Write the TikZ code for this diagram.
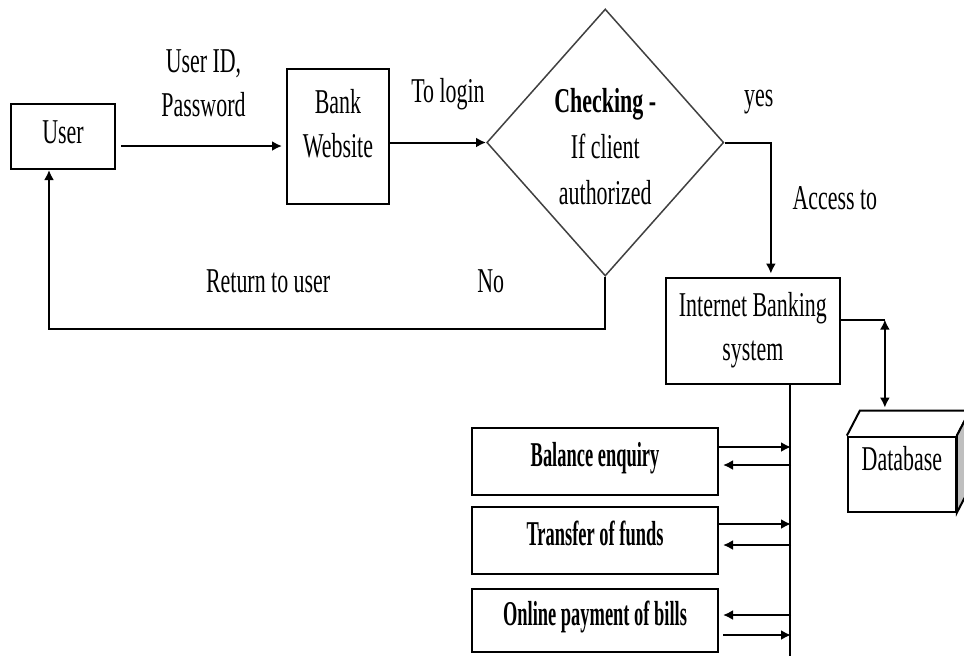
\documentclass[tikz,border=0pt]{standalone}
\usepackage{fontspec}
\setmainfont{Liberation Serif}[FakeStretch=0.63]
\newfontfamily\boxfont{Liberation Serif}[FakeStretch=0.53]
\usetikzlibrary{shapes.geometric, arrows.meta}
\usetikzlibrary{positioning}

\begin{document}
\begin{tikzpicture}[->, >={Latex[length=5pt,width=5pt]}, line width=1pt, node distance=5pt,
	font=\fontsize{17.4}{22}\selectfont,
	block/.style={rectangle, draw, align=center},
	service/.style={rectangle, draw, minimum width=123pt, minimum height=33.5pt, text height=12pt, text depth=7.5pt, font=\boxfont\bfseries\fontsize{17.4}{22}\selectfont},
	decision/.style={diamond, draw=black!75, line width=0.75pt, minimum width=118.5pt, minimum height=133.5pt, inner sep=0pt, align=center, font=\fontsize{17.4}{23}\selectfont}]
	\useasboundingbox (0,0) rectangle (482pt,-327.5pt);
	\node[block, minimum width=52pt, minimum height=32.5pt, text height=12pt, text depth=5.5pt] (user) at (31.5pt,-68.25pt) {User};
	\node[block, minimum width=51pt, minimum height=67.5pt, text depth=13pt] (bank) [right=85pt of user] {Bank\\Website};
	\node[decision, yshift=-3pt] (dia) [right=48pt of bank] {\rule{0pt}{16pt}\textbf{Checking -}\\If client\\authorized};
	\node[block, minimum width=87pt, minimum height=53pt] (ib) [below right=33.5pt and 0pt of dia] {Internet Banking\\system};
	\node[block, minimum width=54pt, minimum height=37.5pt, text height=12pt, text depth=15.5pt] (db) [below right=25.5pt and 3pt of ib] {Database};
	
	\node[service] (bal) at (297.5pt,-230.75pt) {Balance enquiry};
	\node[service] (fund) [below=5pt of bal] {Transfer of funds};
	\node[service, minimum height=31.5pt] (bill) [below=6.5pt of fund] {Online payment of bills};
	
	\draw[shorten >=2pt] ([xshift=2.5pt, yshift=-4.75pt]user.east) -- ([yshift=-4.75pt]bank.west)
		node[midway, yshift=31.5pt, align=center] {User ID,\\Password};
	\draw (bank.east |- dia.west) -- (dia.west) node[midway, yshift=24.4pt, xshift=5pt] {To login};
	\draw[shorten >=1.5pt] (dia.east) -| ([xshift=9pt]ib.north)
		node[pos=0.37, yshift=20pt] {yes}
		node[pos=0.708, xshift=32pt] {Access to};
	\draw (dia.south) -- ++(0,-26pt) -| ([xshift=-7pt]user.south)
		node[pos=0.103, yshift=23.5pt] {No}
		node[pos=0.303, yshift=23.5pt] {Return to user};
	
	% database box
	\draw[-] (db.north west) -- ++(6.5pt,12.5pt) coordinate (dbback) -- ([shift={(6.5pt,12.5pt)}]db.north east) coordinate (dbbackr) -- (db.north east);
	\draw[-, fill=black!25] (db.north east) -- (dbbackr) -- ([shift={(6.5pt,12.5pt)}]db.south east) -- (db.south east) -- cycle;
	\draw[-] ([yshift=5.5pt]ib.east) -- ++(22pt,0) coordinate (dbjoin);
	\draw[<->, shorten >=1.5pt] (dbjoin) -- (dbjoin |- dbback);
	
	% services
	\draw[-] ([xshift=18.6pt]ib.south) -- ++(0,-140pt) coordinate (busend);
	\draw ([yshift=7.25pt]bal.east) -- ++(36pt,0);
	\draw ([yshift=-1.75pt]bal.east) ++(36pt,0) -- ++(-34pt,0);
	\draw ([yshift=8.25pt]fund.east) -- ++(36pt,0);
	\draw ([yshift=-2.25pt]fund.east) ++(36pt,0) -- ++(-34pt,0);
	\draw ([yshift=2.75pt]bill.east) ++(36pt,0) -- ++(-34pt,0);
	\draw ([xshift=2pt, yshift=-7.25pt]bill.east) -- ++(34pt,0);
\end{tikzpicture}
\end{document}
